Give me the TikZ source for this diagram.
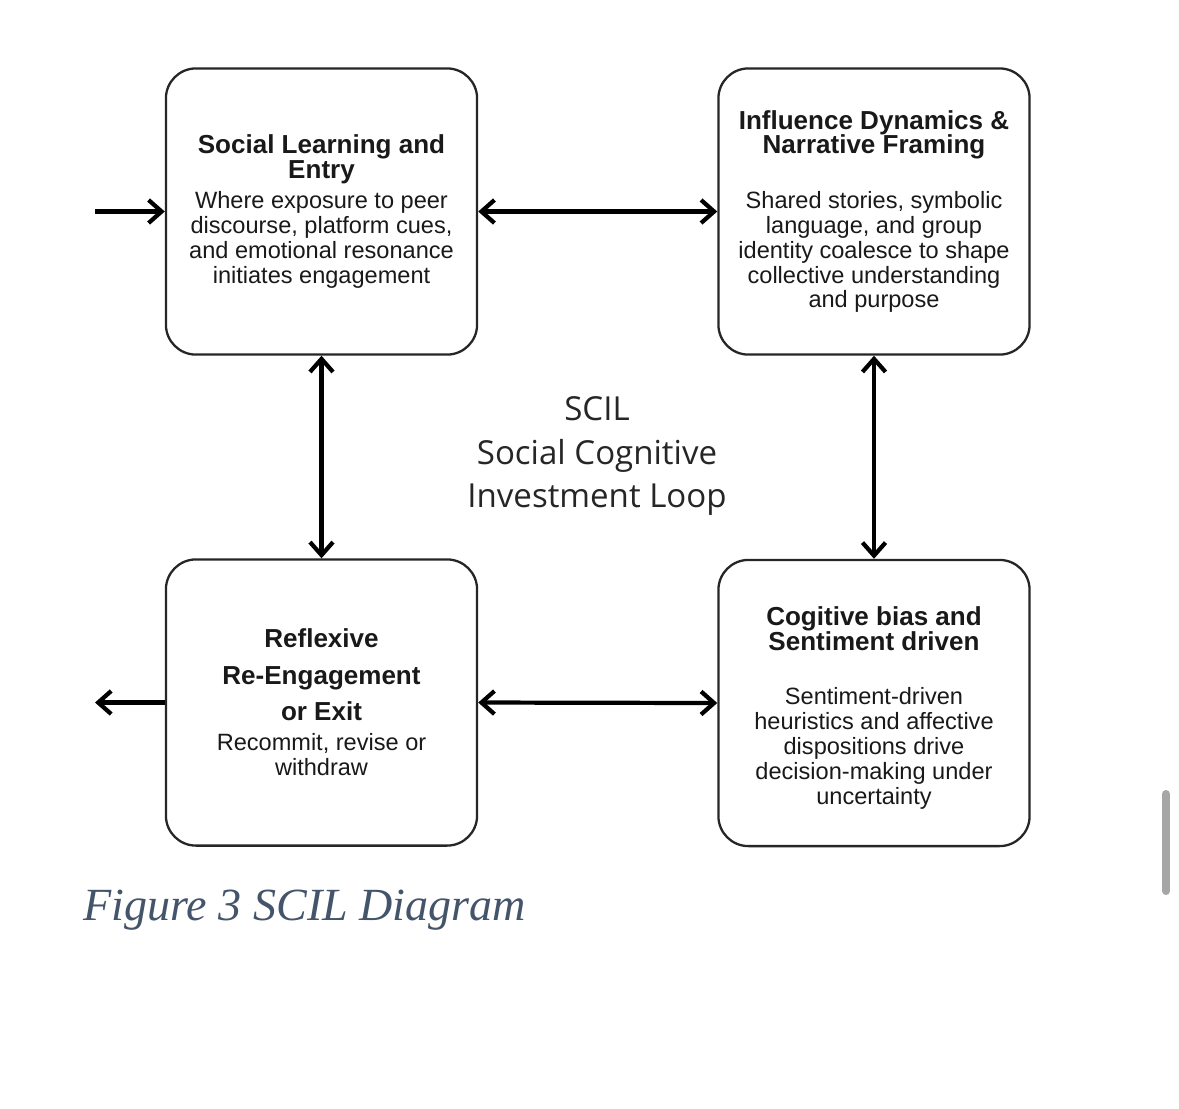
\documentclass[tikz,border=0pt]{standalone}
\usepackage{fontspec}
\setmainfont{Liberation Sans}
\newfontfamily\loopfont{Open Sans}
\newfontfamily\figcapfont{Liberation Serif}
\usetikzlibrary{arrows.meta}
\definecolor{captionblue}{RGB}{68,84,106}
\definecolor{scrollgray}{RGB}{166,166,166}
\newcommand{\boxtitle}[1]{{\bfseries\fontsize{7.4}{7.1}\selectfont #1}}

\begin{document}
\begin{tikzpicture}[x=0.01cm, y=-0.01cm,
	stage/.style={draw=black!85, line width=0.65pt, rounded corners=0.3cm, minimum width=3.11cm, minimum height=2.86cm, inner sep=0pt, align=center, text=black!90, font=\fontsize{6.7}{7.1}\selectfont},
	link/.style={line width=1.2pt},
	>={Straight Barb[length=1.3mm,width=2.3mm]}]
	\useasboundingbox[fill=white] (0,0) rectangle (1179,1108);
	% les quatre etapes de la boucle
	\node[stage] (learn) at (321.5,211.5) {\boxtitle{Social Learning and}\\\boxtitle{Entry}\\[1.2pt]Where exposure to peer\\discourse, platform cues,\\and emotional resonance\\initiates engagement};
	\node[stage] (frame) at (874,211.5) {\boxtitle{Influence Dynamics \&}\\\boxtitle{Narrative Framing}\\[8.3pt]Shared stories, symbolic\\language, and group\\identity coalesce to shape\\collective understanding\\and purpose};
	\node[stage] (reflex) at (321.5,702.5) {\boxtitle{Reflexive}\\[3.3pt]\boxtitle{Re-Engagement}\\[3.3pt]\boxtitle{or Exit}\\[1.4pt]Recommit, revise or\\withdraw};
	\node[stage] (bias) at (874,703) {\rule{0pt}{8pt}\boxtitle{Cogitive bias and}\\\boxtitle{Sentiment driven}\\[8.3pt]Sentiment-driven\\heuristics and affective\\dispositions drive\\decision-making under\\uncertainty};
	% titre au centre
	\node[align=center, text=black!85, font=\loopfont\fontsize{9.4}{12.3}\selectfont] (scil) at (597,456) {SCIL\\Social Cognitive\\Investment Loop};
	% fleches
	\coordinate (in) at (95,211.5);
	\coordinate (out) at (95,702.5);
	\draw[link,->] (in) -- (learn.west);
	\draw[link,<->] (learn.east) -- (frame.west);
	\draw[link,<->] (learn.south) -- (reflex.north);
	\draw[link,<->] (frame.south) -- (bias.north);
	\draw[link,<->] (reflex.east) -- (bias.west);
	\draw[link,->] (reflex.west) -- (out);
	% legende
	\node[anchor=base west, inner sep=0pt, text=captionblue, font=\figcapfont\itshape\fontsize{13.1}{15}\selectfont] (caption) at (83,920) {Figure 3 SCIL Diagram};
	\draw[scrollgray, line width=0.08cm, line cap=round] (1166,794) -- (1166,891);
\end{tikzpicture}
\end{document}
